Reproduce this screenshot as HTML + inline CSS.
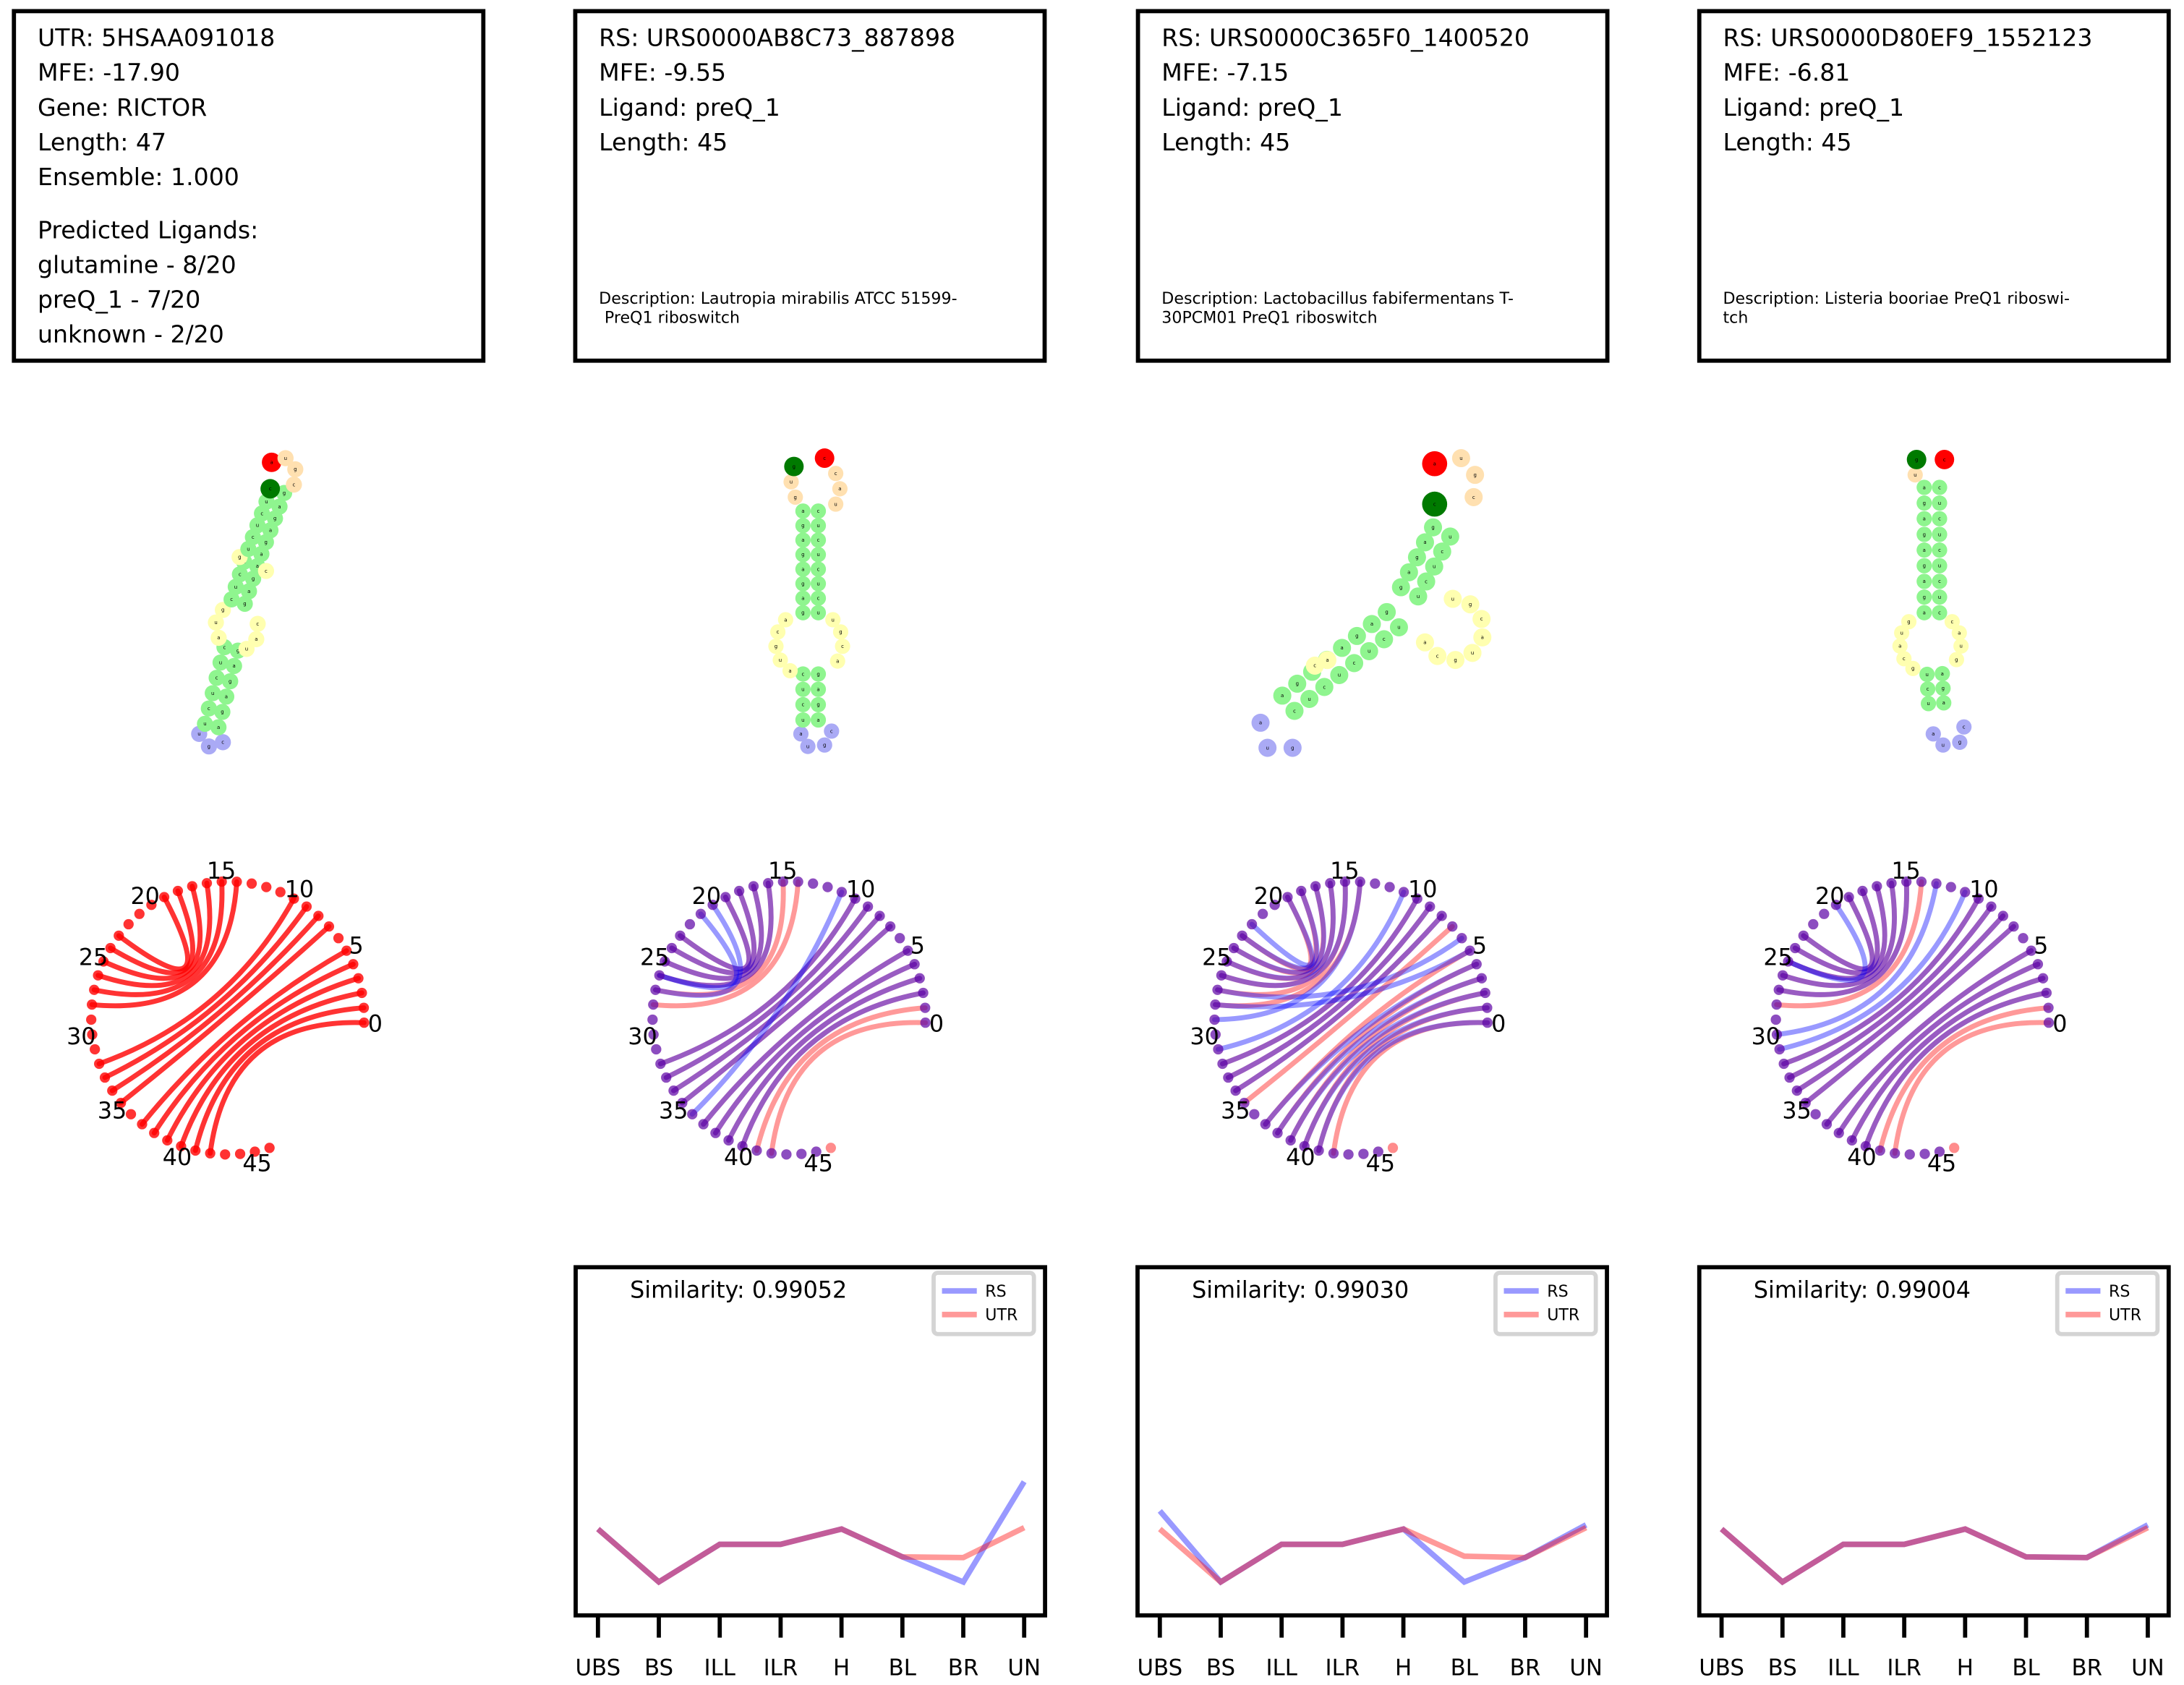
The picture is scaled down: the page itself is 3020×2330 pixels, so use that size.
<!DOCTYPE html>
<html><head><meta charset="utf-8"><title>Riboswitch comparison</title>
<style>
html,body{margin:0;padding:0;background:#fff;}
svg{display:block;}
text{font-family:"DejaVu Sans","Liberation Sans",sans-serif;}
</style></head>
<body>
<svg id="fig" xmlns="http://www.w3.org/2000/svg" width="3020" height="2330" viewBox="0 0 1568 1210" preserveAspectRatio="none">
<rect x="0" y="0" width="1568" height="1210" fill="#fff"/>

<g>
<rect x="10" y="8" width="337" height="251" fill="#fff" stroke="#000" stroke-width="3"/>
<text x="27" y="33" font-size="17.2">UTR: 5HSAA091018</text>
<text x="27" y="58" font-size="17.2">MFE: -17.90</text>
<text x="27" y="83" font-size="17.2">Gene: RICTOR</text>
<text x="27" y="108" font-size="17.2">Length: 47</text>
<text x="27" y="133" font-size="17.2">Ensemble: 1.000</text>
<text x="27" y="171" font-size="17.2">Predicted Ligands:</text>
<text x="27" y="196" font-size="17.2">glutamine - 8/20</text>
<text x="27" y="221" font-size="17.2">preQ_1 - 7/20</text>
<text x="27" y="246" font-size="17.2">unknown - 2/20</text>
</g>
<g>
<rect x="413" y="8" width="337" height="251" fill="#fff" stroke="#000" stroke-width="3"/>
<text x="430" y="33" font-size="17.2">RS: URS0000AB8C73_887898</text>
<text x="430" y="58" font-size="17.2">MFE: -9.55</text>
<text x="430" y="83" font-size="17.2">Ligand: preQ_1</text>
<text x="430" y="108" font-size="17.2">Length: 45</text>
<text x="430" y="218" font-size="11.5">Description: Lautropia mirabilis ATCC 51599-</text>
<text x="434" y="232" font-size="11.5">PreQ1 riboswitch</text>
</g>
<g>
<rect x="817" y="8" width="337" height="251" fill="#fff" stroke="#000" stroke-width="3"/>
<text x="834" y="33" font-size="17.2">RS: URS0000C365F0_1400520</text>
<text x="834" y="58" font-size="17.2">MFE: -7.15</text>
<text x="834" y="83" font-size="17.2">Ligand: preQ_1</text>
<text x="834" y="108" font-size="17.2">Length: 45</text>
<text x="834" y="218" font-size="11.5">Description: Lactobacillus fabifermentans T-</text>
<text x="834" y="232" font-size="11.5">30PCM01 PreQ1 riboswitch</text>
</g>
<g>
<rect x="1220" y="8" width="337" height="251" fill="#fff" stroke="#000" stroke-width="3"/>
<text x="1237" y="33" font-size="17.2">RS: URS0000D80EF9_1552123</text>
<text x="1237" y="58" font-size="17.2">MFE: -6.81</text>
<text x="1237" y="83" font-size="17.2">Ligand: preQ_1</text>
<text x="1237" y="108" font-size="17.2">Length: 45</text>
<text x="1237" y="218" font-size="11.5">Description: Listeria booriae PreQ1 riboswi-</text>
<text x="1237" y="232" font-size="11.5">tch</text>
</g>

<g id="structures"></g>
<g id="arcs"></g>
<g id="lines"></g>
</svg>

<script>
// ---------- line-plot data ----------
const categories = ["UBS","BS","ILL","ILR","H","BL","BR","UN"];
const similarityLabels = ["Similarity: 0.99052","Similarity: 0.99030","Similarity: 0.99004"];
const rsValues1  = [24.8, 9.6, 20.4, 20.4, 24.8, 16.8, 9.6, 38.4];
const utrValues1 = [24.8, 9.6, 20.4, 20.4, 24.8, 16.8, 16.6, 25.2];
const rsValues2  = [30.0, 9.6, 20.4, 20.4, 24.8, 9.6, 16.6, 26.0];
const utrValues2 = [24.8, 9.6, 20.4, 20.4, 24.8, 17.0, 16.6, 25.2];
const rsValues3  = [24.8, 9.6, 20.4, 20.4, 24.8, 16.8, 16.6, 26.0];
const utrValues3 = [24.8, 9.6, 20.4, 20.4, 24.8, 16.8, 16.6, 25.2];

// ---------- arc diagram data ----------
const utrLength = 47;
const rsLength = 46;
const utrPairs = [[0,42],[1,41],[2,40],[3,39],[4,38],[5,37],[7,35],[8,34],[9,33],[10,32],[14,28],[15,27],[16,26],[17,25],[18,24],[19,23]];
const rsPairs1 = [[2,40],[3,39],[4,38],[5,37],[7,35],[8,34],[9,33],[10,32],[11,36],[16,26],[17,25],[18,24],[19,23],[20,27],[21,26]];
const rsPairs2 = [[0,41],[1,40],[2,39],[3,38],[4,37],[5,28],[6,27],[8,34],[9,33],[10,32],[11,31],[14,29],[15,26],[16,25],[17,24],[18,23],[19,22]];
const rsPairs3 = [[2,40],[3,39],[4,38],[5,37],[7,35],[8,34],[9,33],[10,32],[11,31],[13,30],[15,27],[16,26],[17,25],[18,24],[19,23],[20,25]];

const NS = "http://www.w3.org/2000/svg";
function mk(tag, attrs, parent){
  const e = document.createElementNS(NS, tag);
  for (const k in attrs) e.setAttribute(k, attrs[k]);
  parent.appendChild(e);
  return e;
}
const colLeft = [10, 413.3, 816.7, 1220];

// ---------- line plots ----------
const linesG = document.getElementById("lines");
const plotSets = [[rsValues1, utrValues1],[rsValues2, utrValues2],[rsValues3, utrValues3]];
const yTop = 910, yBot = 1160, yMax = 100;
function yScale(v){ return yBot - v/yMax*(yBot-yTop); }
for (let p = 0; p < 3; p++){
  const L = colLeft[p+1];
  const g = mk("g", {}, linesG);
  
  
  function xScale(i){ return L + 16 + i*(337-31)/(categories.length-1); }
  const frame = mk("rect", {x:L, y:yTop, width:337, height:yBot-yTop, fill:"#fff", stroke:"#000", "stroke-width":3}, g);
  
  
  categories.forEach((c,i)=>{
    const t = mk("line", {x1:xScale(i), x2:xScale(i), y1:yBot, y2:yBot+16, stroke:"#000", "stroke-width":3}, g);
    
    
    const lb = mk("text", {x:xScale(i), y:1203, "font-size":16, "text-anchor":"middle"}, g);
    lb.textContent = c;
    
    
  });
  const series = [[plotSets[p][0], "rgba(0,0,255,0.4)", "rs-line"],[plotSets[p][1], "rgba(255,0,0,0.4)", "utr-line"]];
  series.forEach(s=>{
    const d = s[0].map((v,i)=>(i?"L":"M")+xScale(i).toFixed(1)+","+yScale(v).toFixed(1)).join(" ");
    const pl = mk("path", {d:d, fill:"none", stroke:s[1], "stroke-width":4, "stroke-linejoin":"miter"}, g);
    
    
  });
  const st = mk("text", {x:L+39, y:932, "font-size":16.5}, g);
  st.textContent = similarityLabels[p];
  
  
  const lg = mk("g", {}, g);
  
  
  mk("rect", {x:L+257, y:914, width:72, height:44, rx:3, fill:"#fff", stroke:"#d4d4d4", "stroke-width":3}, lg);
  mk("line", {x1:L+263, x2:L+288, y1:927, y2:927, stroke:"rgba(0,0,255,0.4)", "stroke-width":4}, lg);
  mk("line", {x1:L+263, x2:L+288, y1:944, y2:944, stroke:"rgba(255,0,0,0.4)", "stroke-width":4}, lg);
  const t1 = mk("text", {x:L+294, y:931, "font-size":11.5}, lg); t1.textContent = "RS";
  const t2 = mk("text", {x:L+294, y:948, "font-size":11.5}, lg); t2.textContent = "UTR";
}

// ---------- arc diagrams ----------
const arcsG = document.getElementById("arcs");
const arcCX = [163.5, 566.5, 970, 1373];
const arcCY = 731, arcR = 98, theta0 = -2, step = 6.3;
function nodePos(c, k){
  const a = (theta0 + k*step)*Math.PI/180;
  return [arcCX[c] + arcR*Math.cos(a), arcCY - arcR*Math.sin(a)];
}
function drawArcs(g, c, pairs, color, lw){
  pairs.forEach(pr=>{
    const a = nodePos(c, pr[0]), b = nodePos(c, pr[1]);
    const p = mk("path", {d:`M${a[0].toFixed(1)},${a[1].toFixed(1)} Q${arcCX[c]},${arcCY} ${b[0].toFixed(1)},${b[1].toFixed(1)}`, fill:"none", stroke:color, "stroke-width":lw, "stroke-linecap":"round"}, g);
    
    
  });
}
function drawNodes(g, c, n, color){
  for (let k=0;k<n;k++){
    const q = nodePos(c,k);
    const d = mk("circle", {cx:q[0].toFixed(1), cy:q[1].toFixed(1), r:3.7, fill:color}, g);
    
    
  }
}
function drawLabels(g, c){
  for (let k=0;k<=45;k+=5){
    const a = (theta0 + k*step)*Math.PI/180;
    const x = arcCX[c] + 106*Math.cos(a), y = arcCY - 106*Math.sin(a);
    const t = mk("text", {x:x.toFixed(1), y:(y+6).toFixed(1), "font-size":16.5, "text-anchor":"middle"}, g);
    t.textContent = String(k);
    
    
  }
}
const rsPairSets = [rsPairs1, rsPairs2, rsPairs3];
for (let c=0;c<4;c++){
  const g = mk("g", {}, arcsG);
  
  
  if (c===0){
    drawArcs(g, c, utrPairs, "rgba(255,0,0,0.8)", 3.6);
    drawNodes(g, c, utrLength, "rgba(255,0,0,0.8)");
  } else {
    drawArcs(g, c, utrPairs, "rgba(255,0,0,0.4)", 3.6);
    drawArcs(g, c, rsPairSets[c-1], "rgba(0,0,255,0.4)", 3.6);
    drawNodes(g, c, utrLength, "rgba(255,0,0,0.45)");
    drawNodes(g, c, rsLength, "rgba(0,0,255,0.45)");
  }
  drawLabels(g, c);
}

// ---------- secondary structure drawings ----------
const sG = document.getElementById("structures");
const COL = {stem:"#8ff58f", loop:"#ffffb0", hp:"#ffe0b0", ext:"#aaaaf5", red:"#ff0000", dg:"#007a00"};
const letters = "acgu";
let li = 0;
function nt(g, x, y, r, col){
  const c = mk("circle", {cx:x, cy:y, r:r, fill:col}, g);
  
  
  const t = mk("text", {x:x, y:y+1.2, "font-size":3.6, "text-anchor":"middle"}, g);
  t.textContent = letters[(li++*7+3)%4];
}
function ladder(g, x1,y1,x2,y2,n,sep,r){
  const dx=x2-x1, dy=y2-y1, len=Math.hypot(dx,dy), px=-dy/len*sep/2, py=dx/len*sep/2;
  for (let i=0;i<n;i++){
    const t = n>1 ? i/(n-1) : 0;
    const cx = x1+dx*t, cy = y1+dy*t;
    nt(g, cx+px, cy+py, r, COL.stem);
    nt(g, cx-px, cy-py, r, COL.stem);
  }
}
function loop(g, cx, cy, rad, angles, r){
  angles.forEach(a=>{ const q=a*Math.PI/180; nt(g, cx+rad*Math.cos(q), cy+rad*Math.sin(q), r, COL.loop); });
}
function pts(g, list, r, col){ list.forEach(p=>nt(g,p[0],p[1],r,col)); }

(function(){
  const g = mk("g", {}, sG);
  
  
  const r=5.8;
  pts(g, [[143,527],[150,536],[160,533]], r, COL.ext);
  ladder(g, 152,521, 166,466, 6, 10, r);
  pts(g, [[157,458],[155,447],[160,438],[185,448],[184,459],[177,466]], r, COL.loop);
  ladder(g, 171,432, 180,405, 4, 10, r);
  pts(g, [[172,400],[191,410]], r, COL.loop);
  ladder(g, 183,396, 196,362, 5, 10, r);
  pts(g, [[204,354]], r, COL.stem);
  pts(g, [[194,351]], 7, COL.dg);
  pts(g, [[195,332]], 7, COL.red);
  pts(g, [[205,329],[212,337],[211,348]], r, COL.hp);
})();
(function(){
  const g = mk("g", {}, sG);
  
  
  const r=5.5;
  pts(g, [[575,527],[580,536],[592,535],[597,525]], r, COL.ext);
  ladder(g, 582,517, 582,484, 4, 11, r);
  loop(g, 581,462, 24, [125,150,175,200,225,315,340,5,32], r);
  ladder(g, 582,440, 582,367, 8, 11, r);
  pts(g, [[568,346],[571,357],[600,340],[603,351],[600,362]], r, COL.hp);
  pts(g, [[570,335]], 7, COL.dg);
  pts(g, [[592,329]], 7, COL.red);
})();
(function(){
  const g = mk("g", {}, sG);
  
  
  const r=6.5;
  pts(g, [[905,519],[910,537],[928,537]], r, COL.ext);
  ladder(g, 925,505, 1000,445, 8, 14, r);
  pts(g, [[944,478],[953,474]], r, COL.loop);
  loop(g, 1043,452, 22, [-90,-55,-20,15,50,85,120,155], r);
  ladder(g, 1012,425, 1035,382, 5, 14, r);
  pts(g, [[1030,362]], 9, COL.dg);
  pts(g, [[1030,333]], 9, COL.red);
  pts(g, [[1049,329],[1059,341],[1058,357]], r, COL.hp);
})();
(function(){
  const g = mk("g", {}, sG);
  
  
  const r=5.5;
  pts(g, [[1388,527],[1395,535],[1407,533],[1410,522]], r, COL.ext);
  ladder(g, 1390,505, 1389,484, 3, 11, r);
  loop(g, 1386,462, 22, [125,150,175,200,225,315,340,5,32], r);
  ladder(g, 1387,440, 1387,350, 9, 11, r);
  pts(g, [[1375,341]], r, COL.hp);
  pts(g, [[1376,330]], 7, COL.dg);
  pts(g, [[1396,330]], 7, COL.red);
})();
</script>
</body></html>
